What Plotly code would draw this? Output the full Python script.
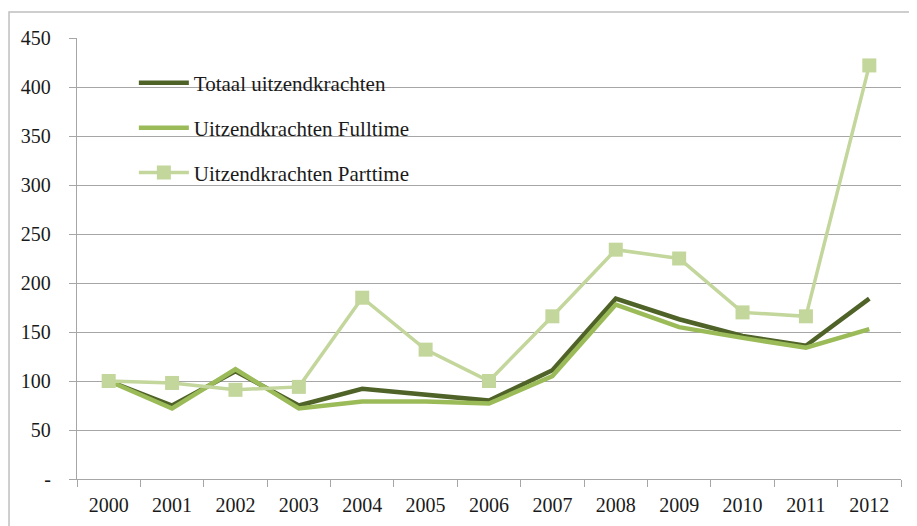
import plotly.graph_objects as go

years = ["2000", "2001", "2002", "2003", "2004", "2005", "2006",
         "2007", "2008", "2009", "2010", "2011", "2012"]
totaal = [100, 75, 110, 75, 92, 86, 80, 111, 184, 163, 146, 136, 184]
fulltime = [100, 72, 112, 72, 79, 79, 77, 105, 178, 155, 144, 134, 153]
parttime = [100, 98, 91, 94, 185, 132, 100, 166, 234, 225, 170, 166, 422]

y_tickvals = [0, 50, 100, 150, 200, 250, 300, 350, 400, 450]
y_ticktext = ["-", "50", "100", "150", "200", "250", "300", "350", "400", "450"]

FONT = "Liberation Serif"
GRID = "#A6A6A6"

fig = go.Figure()
fig.add_trace(go.Scatter(
    x=years, y=totaal, name="Totaal uitzendkrachten", mode="lines",
    line=dict(color="#4F6228", width=4.5), legendgroup="a"))
fig.add_trace(go.Scatter(
    x=years, y=fulltime, name="Uitzendkrachten Fulltime", mode="lines",
    line=dict(color="#9BBB59", width=4.5), legendgroup="b"))
fig.add_trace(go.Scatter(
    x=years, y=parttime, name="Uitzendkrachten Parttime", mode="lines+markers",
    line=dict(color="#C3D69B", width=3.5),
    marker=dict(symbol="square", size=14, color="#C3D69B"), legendgroup="c"))

fig.update_layout(
    width=917, height=526,
    margin=dict(l=69, r=24, t=30, b=55),
    paper_bgcolor="white", plot_bgcolor="white",
    font=dict(family=FONT, size=20, color="#1a1a1a"),
    showlegend=True,
    legend=dict(x=0.069, y=0.944, xanchor="left", yanchor="top",
                bgcolor="rgba(0,0,0,0)", itemwidth=50,
                tracegroupgap=14.5, font=dict(family=FONT, size=21)),
    xaxis=dict(type="category", range=[-0.5, 12.5], showgrid=False,
               showline=True, linecolor=GRID, linewidth=1.3, ticks="outside",
               tickson="boundaries", ticklen=7, tickcolor=GRID,
               tickwidth=1.3, ticklabelstandoff=8,
               tickfont=dict(family=FONT, size=20)),
    yaxis=dict(range=[0, 450], tickvals=y_tickvals, ticktext=y_ticktext,
               showgrid=True, gridcolor=GRID, gridwidth=1.3,
               showline=True, linecolor=GRID, linewidth=1.3,
               ticks="outside", ticklen=7, tickcolor=GRID, tickwidth=1.3,
               ticklabelstandoff=14,
               zeroline=False, tickfont=dict(family=FONT, size=20)),
    shapes=[dict(type="rect", xref="paper", yref="paper",
                 x0=-0.0825, x1=1.2, y0=-0.3, y1=1.059,
                 line=dict(color="#BFBFBF", width=1.5), layer="below")],
)

fig.write_html("out.html")
